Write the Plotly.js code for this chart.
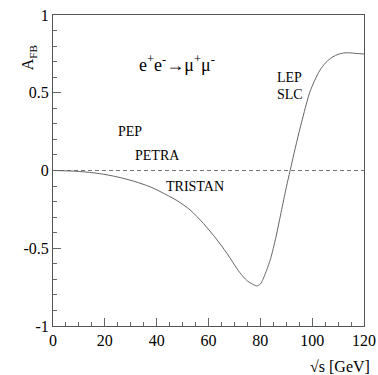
<!DOCTYPE html>
<html>
<head>
<meta charset="utf-8">
<script src="https://cdn.plot.ly/plotly-3.0.1.min.js"></script>
<style>html,body{margin:0;padding:0;background:#fff;}#chart{width:378px;height:375px;}</style>
</head>
<body>
<div id="chart"></div>
<script>
const sqrtS = [0, 10, 18, 25, 31, 37.5, 41.3, 47.8, 53, 58, 63, 67, 72, 75, 77.5, 78.6, 80, 81, 82, 83, 84, 86, 88, 90, 91.5, 93, 95, 97, 99, 101, 103, 105, 107, 109, 111, 113, 115, 117, 120];
const afb = [0, -0.006, -0.02, -0.042, -0.068, -0.105, -0.135, -0.193, -0.255, -0.34, -0.44, -0.53, -0.655, -0.71, -0.735, -0.742, -0.73, -0.70, -0.66, -0.615, -0.565, -0.43, -0.27, -0.11, 0, 0.11, 0.25, 0.38, 0.5, 0.58, 0.645, 0.69, 0.72, 0.74, 0.752, 0.757, 0.756, 0.753, 0.749];
const zeroX = [0, 120];
const zeroY = [0, 0];
const xTicks = [0, 20, 40, 60, 80, 100, 120];
const yTicks = [-1, -0.5, 0, 0.5, 1];
const yTickText = ['-1', '-0.5', '0', '0.5', '1'];

const serif = '"Liberation Serif", "DejaVu Serif", serif';
const traces = [
  {x: zeroX, y: zeroY, mode: 'lines', line: {color: '#555', width: 0.8, dash: '4px,3px'}, hoverinfo: 'skip'},
  {x: sqrtS, y: afb, mode: 'lines', line: {color: '#666', width: 1, shape: 'spline', smoothing: 0.8}}
];
const layout = {
  width: 378, height: 375,
  margin: {l: 53, r: 14, t: 15, b: 49},
  showlegend: false,
  paper_bgcolor: '#fff', plot_bgcolor: '#fff',
  font: {family: serif, color: '#000'},
  xaxis: {
    range: [0, 120], tickvals: xTicks, ticks: 'inside', ticklen: 8, tickcolor: '#666',
    showline: true, linecolor: '#555', linewidth: 1, mirror: true,
    showgrid: false, zeroline: false, tickfont: {size: 16, family: serif},
    minor: {dtick: 5, ticks: 'inside', ticklen: 4, tickcolor: '#666', showgrid: false}
  },
  yaxis: {
    range: [-1, 1], tickvals: yTicks, ticktext: yTickText, ticks: 'inside', ticklen: 8, tickcolor: '#666',
    showline: true, linecolor: '#555', linewidth: 1, mirror: true,
    showgrid: false, zeroline: false, tickfont: {size: 16, family: serif},
    minor: {dtick: 0.1, ticks: 'inside', ticklen: 4, tickcolor: '#666', showgrid: false}
  },
  annotations: [
    {text: 'A<sub>FB</sub>', xref: 'paper', yref: 'paper', x: -0.115, y: 0.91, textangle: -90, showarrow: false, font: {size: 16, family: serif}},
    {text: '√s [GeV]', xref: 'paper', yref: 'paper', x: 1.025, y: -0.095, xanchor: 'right', yanchor: 'top', showarrow: false, font: {size: 16, family: serif}},
    {text: 'e<sup>+</sup>e<sup>-</sup>→μ<sup>+</sup>μ<sup>-</sup>', x: 32.5, y: 0.69, xanchor: 'left', showarrow: false, font: {size: 18, family: serif}},
    {text: 'PEP', x: 24.3, y: 0.25, xanchor: 'left', showarrow: false, font: {size: 14, family: serif}},
    {text: 'PETRA', x: 31, y: 0.095, xanchor: 'left', showarrow: false, font: {size: 14, family: serif}},
    {text: 'TRISTAN', x: 43, y: -0.105, xanchor: 'left', showarrow: false, font: {size: 14, family: serif}},
    {text: 'LEP', x: 85.5, y: 0.6, xanchor: 'left', showarrow: false, font: {size: 14, family: serif}},
    {text: 'SLC', x: 85.5, y: 0.49, xanchor: 'left', showarrow: false, font: {size: 14, family: serif}}
  ]
};
Plotly.newPlot('chart', traces, layout, {staticPlot: true, displayModeBar: false});
</script>
</body>
</html>
